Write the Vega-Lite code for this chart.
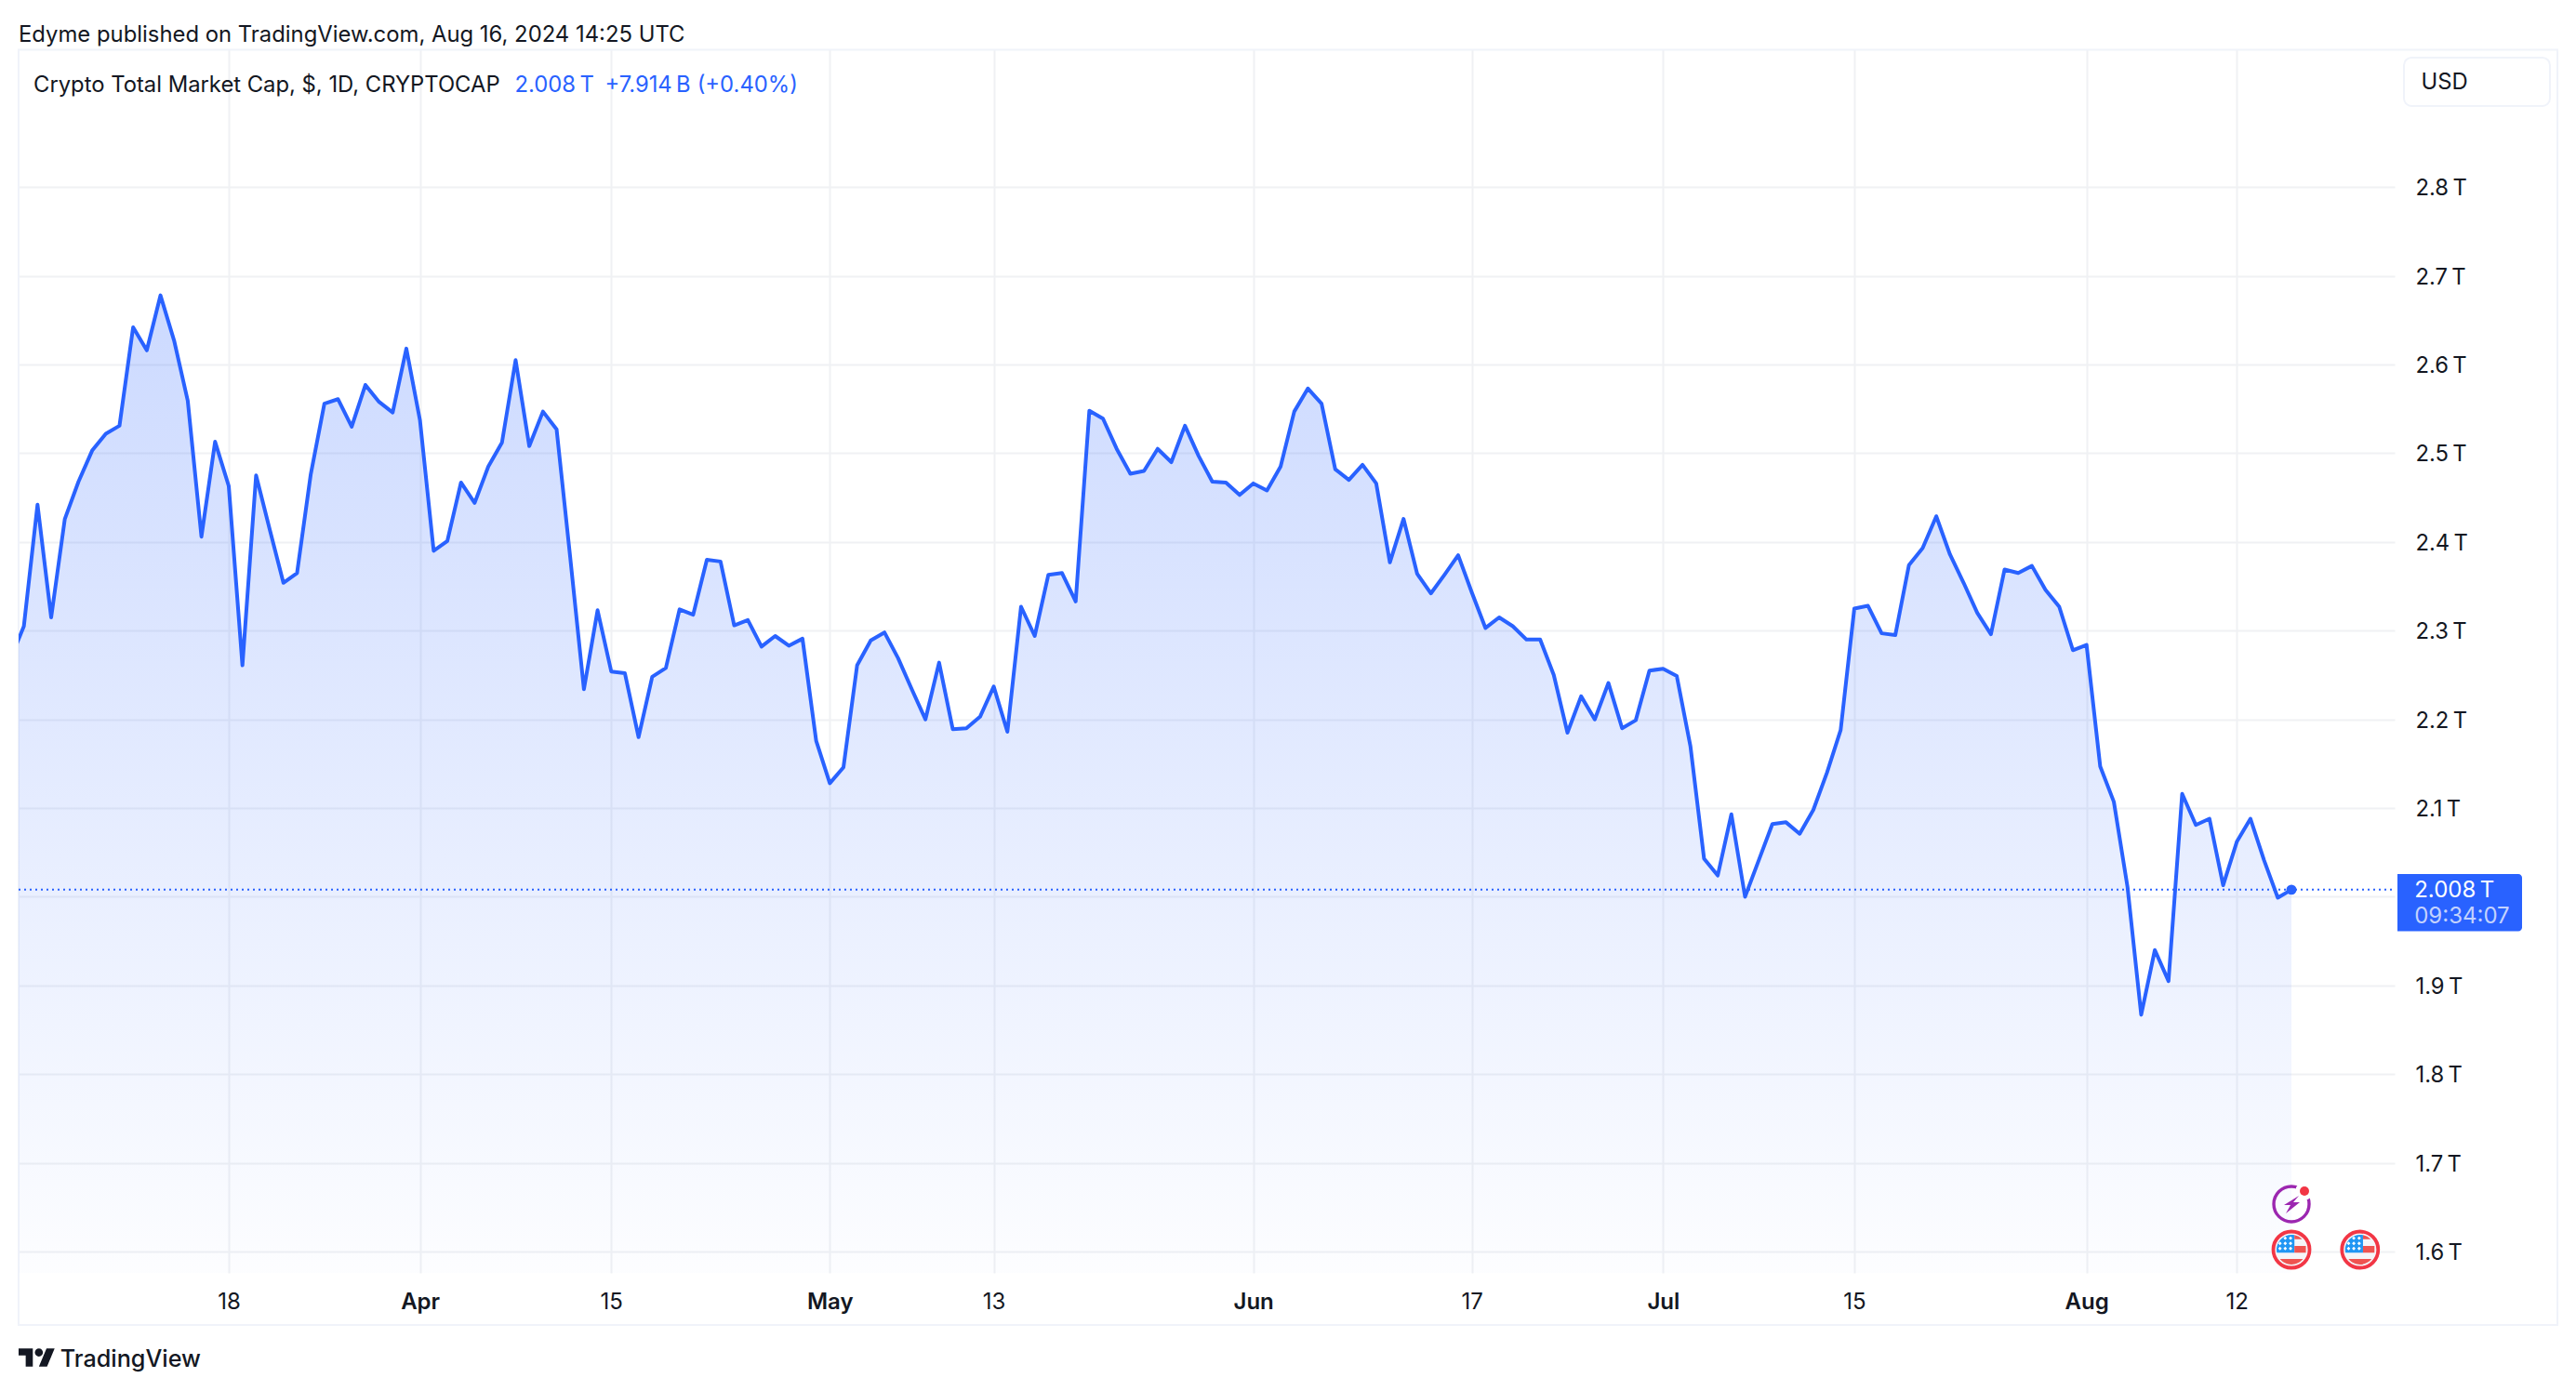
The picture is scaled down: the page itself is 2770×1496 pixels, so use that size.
{
  "$schema": "https://vega.github.io/schema/vega-lite/v6.json",
  "width": 2555,
  "height": 1316,
  "autosize": "none",
  "padding": {"left": 20, "top": 53, "right": 195, "bottom": 127},
  "background": "white",
  "config": {"view": {"stroke": null}, "font": "Inter"},
  "title": {"text": "Edyme published on TradingView.com, Aug 16, 2024 14:25 UTC", "anchor": "start", "frame": "group", "font": "Inter", "fontSize": 23.85, "fontWeight": 400, "color": "#131722", "baseline": "middle", "offset": -9},
  "datasets": {
    "price": [
      {"date":"2024-03-02","value":2.267},{"date":"2024-03-03","value":2.305},{"date":"2024-03-04","value":2.442},{"date":"2024-03-05","value":2.315},{"date":"2024-03-06","value":2.426},{"date":"2024-03-07","value":2.468},{"date":"2024-03-08","value":2.503},{"date":"2024-03-09","value":2.522},{"date":"2024-03-10","value":2.531},{"date":"2024-03-11","value":2.642},{"date":"2024-03-12","value":2.616},{"date":"2024-03-13","value":2.678},{"date":"2024-03-14","value":2.627},{"date":"2024-03-15","value":2.559},{"date":"2024-03-16","value":2.406},{"date":"2024-03-17","value":2.513},{"date":"2024-03-18","value":2.463},{"date":"2024-03-19","value":2.261},{"date":"2024-03-20","value":2.475},{"date":"2024-03-21","value":2.414},{"date":"2024-03-22","value":2.354},{"date":"2024-03-23","value":2.365},{"date":"2024-03-24","value":2.476},{"date":"2024-03-25","value":2.556},{"date":"2024-03-26","value":2.561},{"date":"2024-03-27","value":2.530},{"date":"2024-03-28","value":2.577},{"date":"2024-03-29","value":2.558},{"date":"2024-03-30","value":2.546},{"date":"2024-03-31","value":2.618},
      {"date":"2024-04-01","value":2.537},{"date":"2024-04-02","value":2.390},{"date":"2024-04-03","value":2.401},{"date":"2024-04-04","value":2.467},{"date":"2024-04-05","value":2.444},{"date":"2024-04-06","value":2.485},{"date":"2024-04-07","value":2.512},{"date":"2024-04-08","value":2.605},{"date":"2024-04-09","value":2.508},{"date":"2024-04-10","value":2.547},{"date":"2024-04-11","value":2.527},{"date":"2024-04-12","value":2.382},{"date":"2024-04-13","value":2.234},{"date":"2024-04-14","value":2.323},{"date":"2024-04-15","value":2.254},{"date":"2024-04-16","value":2.252},{"date":"2024-04-17","value":2.180},{"date":"2024-04-18","value":2.248},{"date":"2024-04-19","value":2.258},{"date":"2024-04-20","value":2.324},{"date":"2024-04-21","value":2.318},{"date":"2024-04-22","value":2.380},{"date":"2024-04-23","value":2.378},{"date":"2024-04-24","value":2.306},{"date":"2024-04-25","value":2.312},{"date":"2024-04-26","value":2.282},{"date":"2024-04-27","value":2.294},{"date":"2024-04-28","value":2.283},{"date":"2024-04-29","value":2.291},{"date":"2024-04-30","value":2.176},
      {"date":"2024-05-01","value":2.128},{"date":"2024-05-02","value":2.146},{"date":"2024-05-03","value":2.261},{"date":"2024-05-04","value":2.289},{"date":"2024-05-05","value":2.298},{"date":"2024-05-06","value":2.269},{"date":"2024-05-07","value":2.234},{"date":"2024-05-08","value":2.200},{"date":"2024-05-09","value":2.264},{"date":"2024-05-10","value":2.189},{"date":"2024-05-11","value":2.190},{"date":"2024-05-12","value":2.203},{"date":"2024-05-13","value":2.237},{"date":"2024-05-14","value":2.186},{"date":"2024-05-15","value":2.327},{"date":"2024-05-16","value":2.294},{"date":"2024-05-17","value":2.363},{"date":"2024-05-18","value":2.365},{"date":"2024-05-19","value":2.333},{"date":"2024-05-20","value":2.548},{"date":"2024-05-21","value":2.539},{"date":"2024-05-22","value":2.505},{"date":"2024-05-23","value":2.477},{"date":"2024-05-24","value":2.480},{"date":"2024-05-25","value":2.505},{"date":"2024-05-26","value":2.490},{"date":"2024-05-27","value":2.531},{"date":"2024-05-28","value":2.497},{"date":"2024-05-29","value":2.468},{"date":"2024-05-30","value":2.467},{"date":"2024-05-31","value":2.453},
      {"date":"2024-06-01","value":2.466},{"date":"2024-06-02","value":2.458},{"date":"2024-06-03","value":2.485},{"date":"2024-06-04","value":2.547},{"date":"2024-06-05","value":2.573},{"date":"2024-06-06","value":2.556},{"date":"2024-06-07","value":2.482},{"date":"2024-06-08","value":2.470},{"date":"2024-06-09","value":2.487},{"date":"2024-06-10","value":2.466},{"date":"2024-06-11","value":2.377},{"date":"2024-06-12","value":2.426},{"date":"2024-06-13","value":2.364},{"date":"2024-06-14","value":2.342},{"date":"2024-06-15","value":2.363},{"date":"2024-06-16","value":2.385},{"date":"2024-06-17","value":2.343},{"date":"2024-06-18","value":2.303},{"date":"2024-06-19","value":2.315},{"date":"2024-06-20","value":2.305},{"date":"2024-06-21","value":2.290},{"date":"2024-06-22","value":2.290},{"date":"2024-06-23","value":2.250},{"date":"2024-06-24","value":2.185},{"date":"2024-06-25","value":2.226},{"date":"2024-06-26","value":2.200},{"date":"2024-06-27","value":2.241},{"date":"2024-06-28","value":2.190},{"date":"2024-06-29","value":2.199},{"date":"2024-06-30","value":2.255},
      {"date":"2024-07-01","value":2.257},{"date":"2024-07-02","value":2.249},{"date":"2024-07-03","value":2.170},{"date":"2024-07-04","value":2.043},{"date":"2024-07-05","value":2.024},{"date":"2024-07-06","value":2.093},{"date":"2024-07-07","value":2.000},{"date":"2024-07-08","value":2.041},{"date":"2024-07-09","value":2.082},{"date":"2024-07-10","value":2.084},{"date":"2024-07-11","value":2.071},{"date":"2024-07-12","value":2.098},{"date":"2024-07-13","value":2.140},{"date":"2024-07-14","value":2.188},{"date":"2024-07-15","value":2.325},{"date":"2024-07-16","value":2.328},{"date":"2024-07-17","value":2.297},{"date":"2024-07-18","value":2.295},{"date":"2024-07-19","value":2.374},{"date":"2024-07-20","value":2.393},{"date":"2024-07-21","value":2.429},{"date":"2024-07-22","value":2.386},{"date":"2024-07-23","value":2.354},{"date":"2024-07-24","value":2.320},{"date":"2024-07-25","value":2.296},{"date":"2024-07-26","value":2.369},{"date":"2024-07-27","value":2.365},{"date":"2024-07-28","value":2.373},{"date":"2024-07-29","value":2.346},{"date":"2024-07-30","value":2.327},{"date":"2024-07-31","value":2.278},
      {"date":"2024-08-01","value":2.284},{"date":"2024-08-02","value":2.147},{"date":"2024-08-03","value":2.107},{"date":"2024-08-04","value":2.011},{"date":"2024-08-05","value":1.867},{"date":"2024-08-06","value":1.940},{"date":"2024-08-07","value":1.905},{"date":"2024-08-08","value":2.116},{"date":"2024-08-09","value":2.081},{"date":"2024-08-10","value":2.088},{"date":"2024-08-11","value":2.013},{"date":"2024-08-12","value":2.062},{"date":"2024-08-13","value":2.088},{"date":"2024-08-14","value":2.041},{"date":"2024-08-15","value":1.999},{"date":"2024-08-16","value":2.008}
    ],
    "last": [{"date":"2024-08-16","value":2.008}],
    "flags": [{"date":"2024-08-16","value":1.6022},{"date":"2024-08-21T00:30:00Z","value":1.6022}],
    "session": [{"date":"2024-08-16","value":1.6536}]
  },
  "encoding": {
    "x": {
      "field": "date", "type": "temporal", "title": null,
      "scale": {"type": "utc", "domain": ["2024-03-02T14:46:00Z", "2024-08-23T13:20:00Z"]},
      "axis": {
        "values": ["2024-03-18", "2024-04-01", "2024-04-15", "2024-05-01", "2024-05-13", "2024-06-01", "2024-06-17", "2024-07-01", "2024-07-15", "2024-08-01", "2024-08-12"],
        "labelExpr": "utcdate(datum.value) == 1 ? utcFormat(datum.value, '%b') : utcFormat(datum.value, '%-d')",
        "labelFontWeight": {"condition": {"test": "utcdate(datum.value) == 1", "value": 600}, "value": 400},
        "labelFont": "Inter", "labelFontSize": 24, "labelColor": "#131722", "labelBaseline": "middle", "labelPadding": 31, "labelOverlap": false, "labelFlush": false,
        "domain": false, "ticks": false, "grid": true, "gridColor": "#f0f1f4", "gridWidth": 2
      }
    },
    "y": {
      "field": "value", "type": "quantitative", "title": null,
      "scale": {"domain": [1.576, 2.9554], "nice": false, "zero": false},
      "axis": {
        "orient": "right",
        "values": [1.6, 1.7, 1.8, 1.9, 2.0, 2.1, 2.2, 2.3, 2.4, 2.5, 2.6, 2.7, 2.8],
        "labelExpr": "datum.value == 2 ? '' : format(datum.value, '.1f') + '\u2009T'",
        "labelFont": "Inter", "labelFontSize": 23.8, "labelColor": "#131722", "labelAlign": "left", "labelPadding": 22, "labelOffset": 1.5, "labelOverlap": false, "labelFlush": false,
        "domain": false, "ticks": false, "grid": true, "gridColor": "#f0f1f4", "gridWidth": 2
      }
    }
  },
  "layer": [
    {
      "data": {"values": [{"date": "2024-03-02T14:46:00Z", "date2": "2024-09-04T11:17:00Z", "value": 2.955, "value2": 1.5173}]},
      "mark": {"type": "rect", "fill": null, "stroke": "#f0f3fa", "strokeWidth": 2, "clip": false},
      "encoding": {"x2": {"field": "date2"}, "y2": {"field": "value2"}}
    },
    {
      "data": {"name": "price"},
      "mark": {"type": "area", "clip": true, "color": {"gradient": "linear", "x1": 1, "y1": 1, "x2": 1, "y2": 0, "stops": [{"offset": 0, "color": "rgba(41,98,255,0.01)"}, {"offset": 1, "color": "rgba(41,98,255,0.24)"}]}},
      "encoding": {"y2": {"datum": 1.576}}
    },
    {
      "data": {"values": [{"date": "2024-03-02T14:46:00Z", "date2": "2024-08-23T13:20:00Z", "value": 2.008}]},
      "mark": {"type": "rule", "color": "#2962ff", "strokeWidth": 2, "strokeDash": [2, 4]},
      "encoding": {"x2": {"field": "date2"}}
    },
    {
      "data": {"name": "price"},
      "mark": {"type": "line", "clip": true, "color": "#2962ff", "strokeWidth": 4, "strokeJoin": "round"}
    },
    {
      "data": {"name": "last"},
      "mark": {"type": "point", "filled": true, "color": "#2962ff", "opacity": 1, "size": 120, "clip": false}
    },
    {
      "data": {"name": "session"},
      "mark": {"type": "point", "filled": false, "color": "#9c27b0", "opacity": 1, "strokeWidth": 3.4, "size": 1444, "shape": "circle", "clip": false}
    },
    {
      "data": {"values": [{"date": "2024-08-16T22:52:00Z", "value": 1.6683}]},
      "mark": {"type": "point", "filled": true, "color": "white", "opacity": 1, "size": 380, "shape": "circle", "clip": false}
    },
    {
      "data": {"values": [{"date": "2024-08-16T22:52:00Z", "value": 1.6683}]},
      "mark": {"type": "point", "filled": true, "color": "#f23645", "opacity": 1, "size": 100, "shape": "circle", "clip": false}
    },
    {
      "data": {"name": "session"},
      "mark": {"type": "point", "filled": true, "color": "#9c27b0", "opacity": 1, "size": 1600, "clip": false, "shape": "M0.4 -0.45 L-0.4 0.05 L-0.05 0.05 L-0.3 0.5 L0.45 -0.1 L0.1 -0.1 Z"}
    },
    {
      "data": {"name": "flags"},
      "mark": {"type": "point", "filled": true, "stroke": "#f23645", "fill": "#f5f5f8", "opacity": 1, "strokeWidth": 3.8, "size": 1521, "shape": "circle", "clip": false}
    },
    {
      "data": {"name": "flags"},
      "mark": {"type": "point", "filled": true, "color": "#2196f3", "opacity": 1, "size": 1024, "clip": false, "shape": "M0.2 -0.98 A1 1 0 0 0 -0.98 0.2 L0.2 0.2 Z"}
    },
    {
      "data": {"name": "flags"},
      "mark": {"type": "point", "filled": true, "color": "#ef5350", "opacity": 1, "size": 1024, "clip": false, "shape": "M0.2 -0.98 A1 1 0 0 1 0.72 -0.7 L0.2 -0.7 Z M0.2 -0.25 H0.97 V0.2 H0.2 Z M-0.777 0.63 H0.777 A1 1 0 0 1 -0.777 0.63 Z"}
    },
    {
      "data": {"name": "flags"},
      "mark": {"type": "point", "filled": true, "color": "white", "opacity": 1, "size": 1024, "clip": false, "shape": "M-0.42 -0.89 L-0.3 -0.77 L-0.42 -0.65 L-0.54 -0.77 Z M-0.06 -0.89 L0.06 -0.77 L-0.06 -0.65 L-0.18 -0.77 Z M-0.77 -0.54 L-0.65 -0.42 L-0.77 -0.3 L-0.89 -0.42 Z M-0.42 -0.54 L-0.3 -0.42 L-0.42 -0.3 L-0.54 -0.42 Z M-0.06 -0.54 L0.06 -0.42 L-0.06 -0.3 L-0.18 -0.42 Z M-0.77 -0.2 L-0.65 -0.08 L-0.77 0.04 L-0.89 -0.08 Z M-0.42 -0.2 L-0.3 -0.08 L-0.42 0.04 L-0.54 -0.08 Z M-0.06 -0.2 L0.06 -0.08 L-0.06 0.04 L-0.18 -0.08 Z"}
    },
    {
      "data": {"values": [{"date": "2024-08-23T18:14:00Z", "date2": "2024-09-01T21:10:00Z", "value": 2.0257, "value2": 1.9611}]},
      "mark": {"type": "rect", "color": "#2962ff", "cornerRadiusTopRight": 4, "cornerRadiusBottomRight": 4, "clip": false},
      "encoding": {"x2": {"field": "date2"}, "y2": {"field": "value2"}}
    },
    {
      "data": {"values": [{"label": "2.008\u2009T", "date": "2024-08-25T00:00:00Z", "value": 2.007}]},
      "mark": {"type": "text", "font": "Inter", "fontSize": 24, "align": "left", "baseline": "middle", "color": "white", "clip": false},
      "encoding": {"text": {"field": "label"}}
    },
    {
      "data": {"values": [{"label": "09:34:07", "date": "2024-08-25T00:00:00Z", "value": 1.9775}]},
      "mark": {"type": "text", "font": "Inter", "fontSize": 24, "align": "left", "baseline": "middle", "color": "#c3d2fd", "clip": false},
      "encoding": {"text": {"field": "label"}}
    },
    {
      "data": {"values": [{"date": "2024-08-24T05:46:00Z", "date2": "2024-09-03T22:05:00Z", "value": 2.946, "value2": 2.8915}]},
      "mark": {"type": "rect", "fill": "white", "stroke": "#f0f3fa", "strokeWidth": 2, "cornerRadius": 8, "clip": false},
      "encoding": {"x2": {"field": "date2"}, "y2": {"field": "value2"}}
    },
    {
      "data": {"values": [
        {"label": "Crypto Total Market Cap, $, 1D, CRYPTOCAP", "date": "2024-03-03T16:55:00Z", "value": 2.915},
        {"label": "USD", "date": "2024-08-25T12:00:00Z", "value": 2.918}
      ]},
      "mark": {"type": "text", "font": "Inter", "fontSize": 23.8, "align": "left", "baseline": "middle", "color": "#131722", "clip": false},
      "encoding": {"text": {"field": "label"}}
    },
    {
      "data": {"values": [
        {"label": "2.008\u2009T", "date": "2024-04-07T22:34:00Z", "value": 2.915},
        {"label": "+7.914\u2009B", "date": "2024-04-14T12:58:00Z", "value": 2.915},
        {"label": "(+0.40%)", "date": "2024-04-21T07:00:00Z", "value": 2.915}
      ]},
      "mark": {"type": "text", "font": "Inter", "fontSize": 23.8, "align": "left", "baseline": "middle", "color": "#2962ff", "clip": false},
      "encoding": {"text": {"field": "label"}}
    },
    {
      "data": {"values": [{"date": "2024-03-03T22:52:00Z", "value": 1.4806}]},
      "mark": {"type": "point", "filled": true, "color": "#131722", "opacity": 1, "size": 1544, "clip": false, "shape": "M-0.222 0.5 H-0.611 V-0.111 H-1 V-0.5 H-0.222 Z M0.556 0.5 H0.111 L0.528 -0.5 H0.972 Z M-0.111 -0.278 A0.222 0.222 0 1 0 0.333 -0.278 A0.222 0.222 0 1 0 -0.111 -0.278 Z"}
    },
    {
      "data": {"values": [{"label": "TradingView", "date": "2024-03-05T16:00:00Z", "value": 1.4788}]},
      "mark": {"type": "text", "font": "Inter", "fontSize": 25.2, "fontWeight": 500, "align": "left", "baseline": "middle", "color": "#131722", "clip": false},
      "encoding": {"text": {"field": "label"}}
    }
  ]
}
